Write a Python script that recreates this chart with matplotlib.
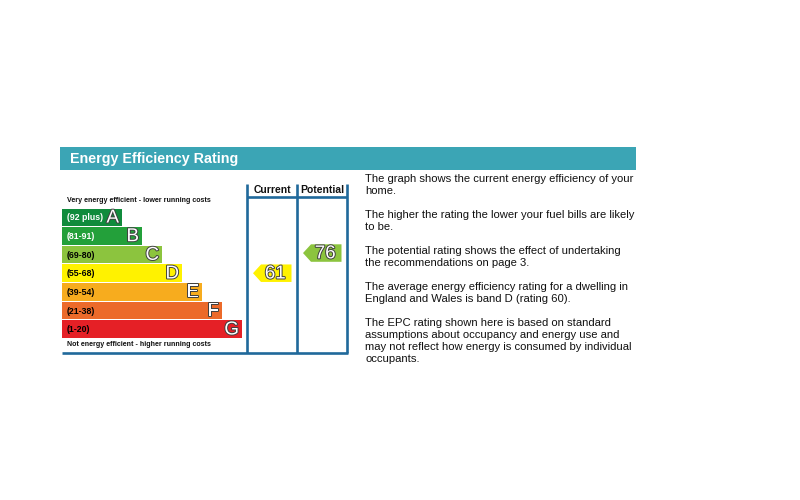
import matplotlib
matplotlib.use("Agg")
import matplotlib.pyplot as plt
from matplotlib.patches import Rectangle, Polygon
import matplotlib.patheffects as pe

# ---- data ----
band_letters = ["A", "B", "C", "D", "E", "F", "G"]
band_ranges = ["(92 plus)", "(81-91)", "(69-80)", "(55-68)", "(39-54)", "(21-38)", "(1-20)"]
band_lows = [92, 81, 69, 55, 39, 21, 1]
band_colors = ["#108b3c", "#23a03a", "#8cc43e", "#fff200", "#f7ac1e", "#ec6a2a", "#e52026"]
band_text_colors = ["white", "white", "black", "black", "black", "black", "black"]
current_rating = 61
potential_rating = 76
column_labels = ["Current", "Potential"]
title = "Energy Efficiency Rating"
top_note = "Very energy efficient - lower running costs"
bottom_note = "Not energy efficient - higher running costs"
paragraphs = [
    ["The graph shows the current energy efficiency of your", "home."],
    ["The higher the rating the lower your fuel bills are likely", "to be."],
    ["The potential rating shows the effect of undertaking", "the recommendations on page 3."],
    ["The average energy efficiency rating for a dwelling in", "England and Wales is band D (rating 60)."],
    ["The EPC rating shown here is based on standard",
     "assumptions about occupancy and energy use and",
     "may not reflect how energy is consumed by individual",
     "occupants."],
]

plt.rcParams['font.family'] = ['Liberation Sans', 'DejaVu Sans']

fig = plt.figure(figsize=(8, 5), dpi=100)
ax = fig.add_axes([0, 0, 1, 1])
ax.set_xlim(0, 800)
ax.set_ylim(500, 0)
ax.axis('off')

teal = "#3ba5b5"
blue = "#20699b"

# title bar
ax.add_patch(Rectangle((60, 147), 576, 23, facecolor=teal, edgecolor='none'))
ax.text(70, 158.5, title, color='white', fontsize=10.25, fontweight='bold', va='center', ha='left')

# bands
left = 62
top0 = 208.5
pitch = 18.65
h = 17.5
outline = [pe.withStroke(linewidth=1.4, foreground='#404040')]


def band_index(r):
    for i, lo in enumerate(band_lows):
        if r >= lo:
            return i
    return len(band_lows) - 1


ys = [top0 + i * pitch for i in range(len(band_letters))]
widths = [60 + 20 * i for i in range(len(band_letters))]
ax.barh([y + h / 2 for y in ys], widths, height=h, left=left, color=band_colors, edgecolor='none')
for i, (y, w) in enumerate(zip(ys, widths)):
    ax.text(left + 5, y + h / 2 + 0.5, band_ranges[i], color=band_text_colors[i], fontsize=6.3,
            fontweight='bold', va='center', ha='left')
    ax.text(left + w - 3, y + h / 2 + 0.8, band_letters[i], color='white', fontsize=13.5,
            va='center', ha='right', path_effects=outline)

ax.text(67, 201, top_note, fontsize=5.1, fontweight='bold', va='center', ha='left', color='#111')
ax.text(67, 344, bottom_note, fontsize=5.1, fontweight='bold', va='center', ha='left', color='#111')

# columns
col_x = [247, 297, 347]
lw = 1.9
for x in col_x:
    ax.plot([x, x], [184, 353], color=blue, lw=lw, solid_capstyle='butt')
ax.plot([col_x[0], col_x[2]], [197, 197], color=blue, lw=lw, solid_capstyle='butt')
ax.plot([62, 348], [352.5, 352.5], color=blue, lw=lw, solid_capstyle='butt')
for j, lab in enumerate(column_labels):
    ax.text((col_x[j] + col_x[j + 1]) / 2 + 0.5, 190, lab, fontsize=7.5, fontweight='bold',
            ha='center', va='center', color='#111')

# arrows
for j, r in enumerate([current_rating, potential_rating]):
    bi = band_index(r)
    ytop = ys[bi] - (1.5 if j == 1 else 0)
    x0 = col_x[j] + 6
    x2 = col_x[j + 1] - 5.5
    x1 = x0 + 8
    poly = Polygon([(x0, ytop + h / 2), (x1, ytop), (x2, ytop), (x2, ytop + h), (x1, ytop + h)],
                   closed=True, facecolor=band_colors[bi], edgecolor='none')
    ax.add_patch(poly)
    ax.text((x1 + x2) / 2 - 1, ytop + h / 2 + 0.8, str(r), color='white', fontsize=13.5,
            ha='center', va='center', path_effects=outline)

# explanatory text
y = 178
for para in paragraphs:
    for line in para:
        ax.text(365, y + 4.3, line, fontsize=8.1, ha='left', va='baseline', color='#111')
        y += 12
    y += 12

fig.savefig("out.png", dpi=100)
